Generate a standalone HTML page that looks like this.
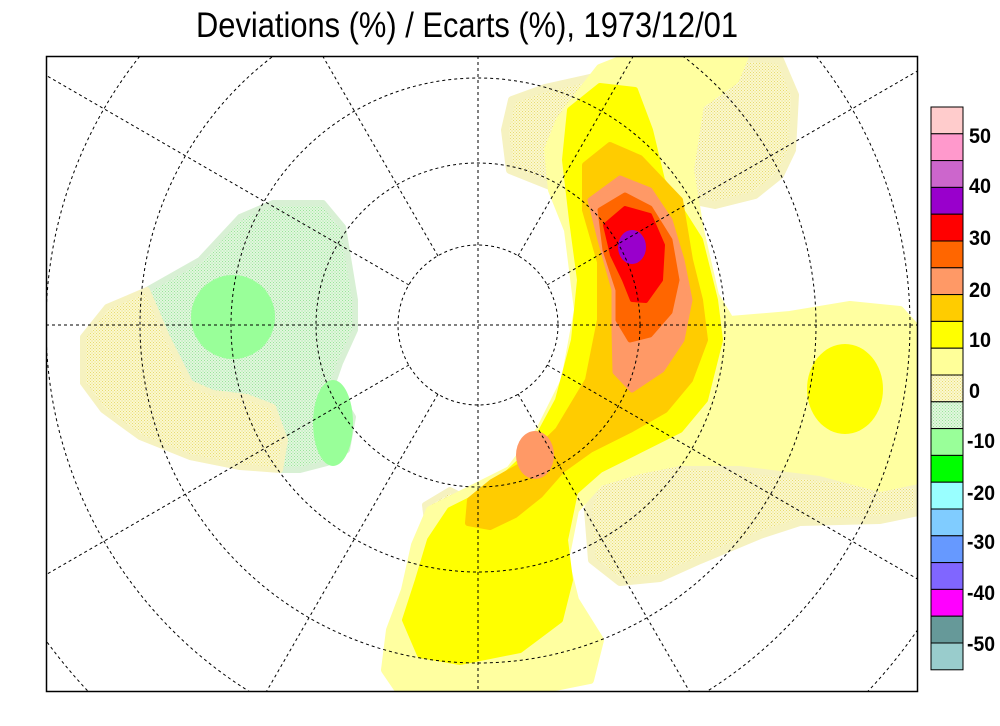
<!DOCTYPE html>
<html><head><meta charset="utf-8"><style>
html,body{margin:0;padding:0;background:#fff;overflow:hidden;width:1000px;height:726px;}
svg{display:block;}
</style></head><body>
<svg width="1000" height="726" viewBox="0 0 1000 726" xmlns="http://www.w3.org/2000/svg">
<defs>
<pattern id="sy" width="3" height="3" patternUnits="userSpaceOnUse"><rect width="3" height="3" fill="#fbf8d0"/><rect x="0" y="0" width="1" height="1" fill="#e8dc70"/><rect x="1.5" y="1.5" width="1" height="1" fill="#e8dc70"/></pattern>
<pattern id="sg" width="3" height="3" patternUnits="userSpaceOnUse"><rect width="3" height="3" fill="#e2f6de"/><rect x="0" y="0" width="1" height="1" fill="#99e699"/><rect x="1.5" y="1.5" width="1" height="1" fill="#99e699"/></pattern>
<clipPath id="c"><rect x="46" y="56" width="872" height="636"/></clipPath>
</defs>
<text x="467" y="37" text-anchor="middle" font-family="Liberation Sans, sans-serif" font-size="35" textLength="542" lengthAdjust="spacingAndGlyphs">Deviations (%) / Ecarts (%), 1973/12/01</text>
<g clip-path="url(#c)" stroke-linejoin="round">
<polygon fill="url(#sg)" stroke="#d8f0d4" stroke-width="6" points="147,290 200,260 240,217 273,203 323,203 343,227 355,300 355,330 340,363 333,383 353,417 347,450 327,463 300,470 280,470 200,400 167,337"/>
<polygon fill="url(#sy)" stroke="#f6f2c0" stroke-width="6" points="147,290 107,307 83,337 83,383 103,410 140,437 190,457 240,467 280,470 285,440 273,407 247,397 213,393 190,383 167,337"/>
<circle cx="233" cy="317" r="42" fill="#99ff99"/>
<ellipse cx="333" cy="423" rx="20" ry="43" fill="#99ff99"/>
<polygon fill="url(#sy)" stroke="#f6f2c0" stroke-width="8" points="505,130 512,100 545,88 590,78 640,62 700,56 780,60 795,95 792,150 780,175 755,195 715,205 690,200 620,200 560,190 510,170"/>
<polygon fill="url(#sy)" stroke="#f6f2c0" stroke-width="8" points="600,470 650,462 750,470 850,480 918,485 918,512 880,520 800,522 760,535 700,560 660,578 620,582 592,560 588,510"/>
<polygon fill="url(#sy)" stroke="#f6f2c0" stroke-width="6" points="425,505 450,490 470,500 466,540 430,545"/>
<polygon fill="#ffffa0" stroke="#ffffa0" stroke-width="8" points="575,100 600,68 630,56 745,56 735,80 700,105 690,170 700,230 715,295 730,320 790,315 850,305 900,310 918,330 918,480 880,488 820,472 740,462 680,462 640,470 600,482 575,510 565,560 575,600 600,640 590,680 530,692 400,692 385,670 390,630 405,590 415,545 430,510 470,490 510,470 540,430 565,380 578,310 568,230 552,190 548,150 560,120"/>
<polygon fill="#ffff00" stroke="#ffff00" stroke-width="6" points="570,110 600,86 635,90 650,130 662,180 700,240 715,300 720,340 705,400 680,430 640,450 600,470 575,492 565,540 570,580 560,620 520,650 460,662 420,655 405,620 418,580 430,540 450,510 490,490 530,452 558,400 574,340 580,280 572,220 565,160"/>
<ellipse cx="845" cy="389" rx="38" ry="45" fill="#ffff00"/>
<polygon fill="#ffcc00" stroke="#ffcc00" stroke-width="6" points="585,165 610,145 640,158 680,200 690,260 700,300 705,340 690,380 665,410 630,430 590,450 562,470 540,495 515,515 490,527 468,523 470,500 492,482 522,465 558,430 588,380 600,320 600,262 585,210"/>
<polygon fill="#ff9966" stroke="#ff9966" stroke-width="5" points="590,200 620,178 650,190 670,220 682,260 690,300 682,340 662,370 632,390 615,372 614,330 614,290 600,240"/>
<ellipse cx="535" cy="455" rx="19" ry="24" fill="#ff9966"/>
<polygon fill="#ff6600" stroke="#ff6600" stroke-width="5" points="600,210 625,195 650,208 670,240 677,280 670,312 650,335 630,340 618,320 618,290 605,250"/>
<polygon fill="#ff0000" stroke="#ff0000" stroke-width="4" points="605,225 625,208 650,215 663,245 661,280 646,301 632,300 624,280 612,255"/>
<ellipse cx="632" cy="247" rx="14" ry="17" fill="#9900cc"/>
<g fill="none" stroke="#000" stroke-width="1" stroke-dasharray="3,3">
<circle cx="478" cy="325" r="80"/>
<circle cx="478" cy="325" r="162"/>
<circle cx="478" cy="325" r="247"/>
<circle cx="478" cy="325" r="338"/>
<circle cx="478" cy="325" r="432"/>
<circle cx="478" cy="325" r="535"/>
<circle cx="478" cy="325" r="648"/>
<line x1="46" y1="325" x2="918" y2="325"/>
<line x1="478" y1="56" x2="478" y2="692"/>
<line x1="547" y1="285" x2="1300" y2="-150"/>
<line x1="518" y1="256" x2="1000" y2="-580"/>
<line x1="409" y1="285" x2="-344" y2="-150"/>
<line x1="438" y1="256" x2="-44" y2="-580"/>
<line x1="547" y1="365" x2="1300" y2="800"/>
<line x1="518" y1="394" x2="1000" y2="1230"/>
<line x1="409" y1="365" x2="-344" y2="800"/>
<line x1="438" y1="394" x2="-44" y2="1230"/>
</g>
</g>
<rect x="46.5" y="56.5" width="871" height="635" fill="none" stroke="#000" stroke-width="1.5"/>
<g stroke="#000" stroke-width="1">
<rect x="931" y="107" width="32" height="26.8" fill="#ffcccc"/>
<rect x="931" y="133.8" width="32" height="26.8" fill="#ff99cc"/>
<rect x="931" y="160.6" width="32" height="26.8" fill="#cc66cc"/>
<rect x="931" y="187.4" width="32" height="26.8" fill="#9900cc"/>
<rect x="931" y="214.2" width="32" height="26.8" fill="#ff0000"/>
<rect x="931" y="241" width="32" height="26.8" fill="#ff6600"/>
<rect x="931" y="267.8" width="32" height="26.8" fill="#ff9966"/>
<rect x="931" y="294.6" width="32" height="26.8" fill="#ffcc00"/>
<rect x="931" y="321.4" width="32" height="26.8" fill="#ffff00"/>
<rect x="931" y="348.2" width="32" height="26.8" fill="#ffff99"/>
<rect x="931" y="375" width="32" height="26.8" fill="url(#sy)"/>
<rect x="931" y="401.8" width="32" height="26.8" fill="url(#sg)"/>
<rect x="931" y="428.6" width="32" height="26.8" fill="#99ff99"/>
<rect x="931" y="455.4" width="32" height="26.8" fill="#00ff00"/>
<rect x="931" y="482.2" width="32" height="26.8" fill="#99ffff"/>
<rect x="931" y="509" width="32" height="26.8" fill="#80ccff"/>
<rect x="931" y="535.8" width="32" height="26.8" fill="#6699ff"/>
<rect x="931" y="562.6" width="32" height="26.8" fill="#8066ff"/>
<rect x="931" y="589.4" width="32" height="26.8" fill="#ff00ff"/>
<rect x="931" y="616.2" width="32" height="26.8" fill="#669999"/>
<rect x="931" y="643" width="32" height="26.8" fill="#99cccc"/>
</g>
<g font-family="Liberation Sans, sans-serif" font-size="21" font-weight="bold" fill="#000">
<text x="969" y="143" textLength="22" lengthAdjust="spacingAndGlyphs">50</text>
<text x="969" y="193" textLength="22" lengthAdjust="spacingAndGlyphs">40</text>
<text x="969" y="245" textLength="22" lengthAdjust="spacingAndGlyphs">30</text>
<text x="969" y="297" textLength="22" lengthAdjust="spacingAndGlyphs">20</text>
<text x="969" y="347" textLength="22" lengthAdjust="spacingAndGlyphs">10</text>
<text x="969" y="398" textLength="11" lengthAdjust="spacingAndGlyphs">0</text>
<text x="967" y="448" textLength="28" lengthAdjust="spacingAndGlyphs">-10</text>
<text x="967" y="500" textLength="28" lengthAdjust="spacingAndGlyphs">-20</text>
<text x="967" y="549" textLength="28" lengthAdjust="spacingAndGlyphs">-30</text>
<text x="967" y="600" textLength="28" lengthAdjust="spacingAndGlyphs">-40</text>
<text x="967" y="651" textLength="28" lengthAdjust="spacingAndGlyphs">-50</text>
</g>
</svg>
</body></html>
